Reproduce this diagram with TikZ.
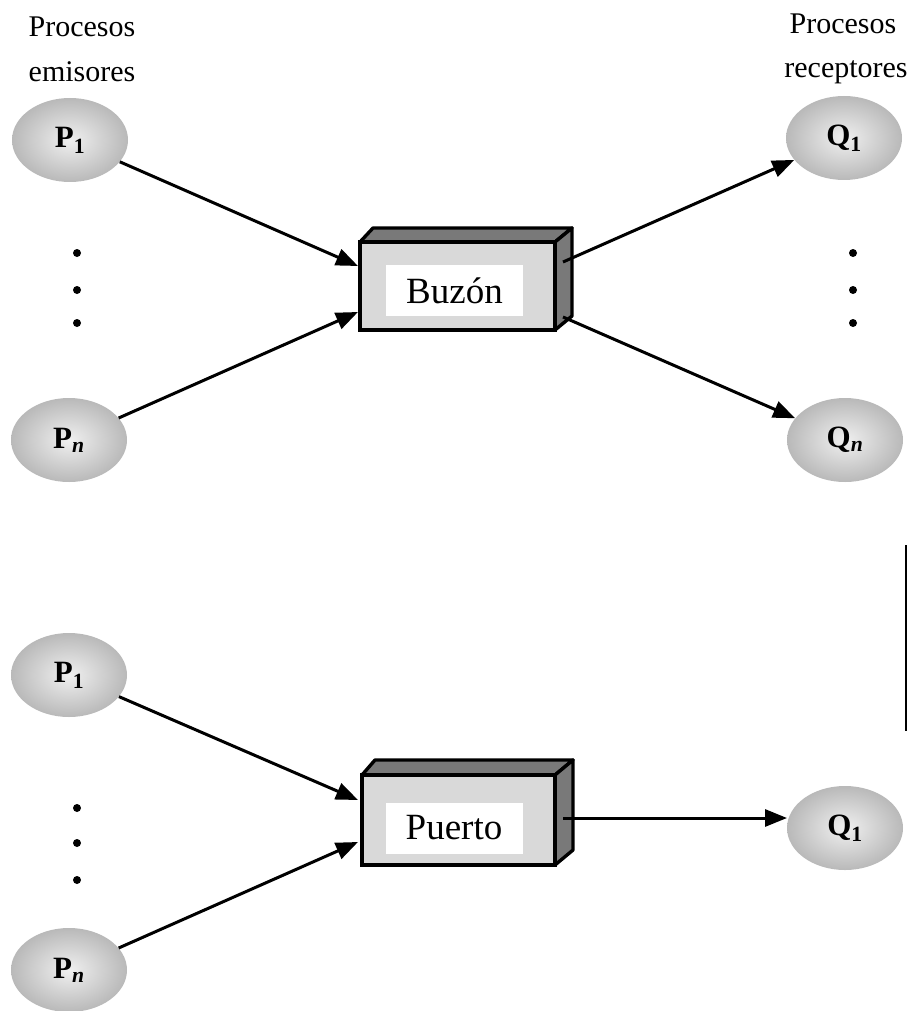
\documentclass[tikz,border=0pt]{standalone}
\usepackage{fontspec}
\setmainfont{Liberation Serif}
\usetikzlibrary{shapes.geometric,arrows.meta}
\begin{document}
\begin{tikzpicture}[x=1pt,y=-1pt,
  proc/.style={ellipse, minimum width=116pt, minimum height=84pt, inner sep=0pt,
    shading=radial, inner color=gray!12, outer color=gray!55},
  plbl/.style={font=\fontsize{31}{31}\selectfont\bfseries},
  front/.style={draw=black, line width=3.4pt, fill=gray!30, minimum width=195pt, minimum height=88pt, inner sep=0pt},
  face/.style={draw=black, line width=3.4pt, line join=round},
  lbl/.style={fill=white, inner sep=0pt, minimum width=137pt, minimum height=51pt, font=\fontsize{37}{37}\selectfont},
  conn/.style={line width=3pt, -{Triangle[length=22pt,width=17pt]}},
  dot/.style={circle, fill=black, inner sep=0pt, minimum size=8pt},
  head/.style={font=\fontsize{30}{30}\selectfont, inner sep=0pt}
]
\useasboundingbox (0,0) rectangle (908,1011);
\colorlet{sidegray}{gray!95!black}

% header texts
\node[head] (h1) at (82,27) {Procesos};
\node[head] (h2) at (82,72) {emisores};
\node[head] (h3) at (843,24) {Procesos};
\node[head] (h4) at (846,72) {receptores};

% ---------- top diagram ----------
\node[proc] (P1) at (70,140) {};
\node[plbl] (P1t) at (70,140) {P\textsubscript{1}};
\node[proc] (Pn) at (69,440) {};
\node[plbl] (Pnt) at (69,440) {P\textsubscript{\itshape n}};
\node[proc] (Q1) at (844,138) {};
\node[plbl] (Q1t) at (844,138) {Q\textsubscript{1}};
\node[proc] (Qn) at (845,440) {};
\node[plbl] (Qnt) at (845,440) {Q\textsubscript{\itshape n}};

\node[dot] (d1) at (77,253) {};
\node[dot] (d2) at (77,290) {};
\node[dot] (d3) at (77,323) {};
\node[dot] (d4) at (853,253) {};
\node[dot] (d5) at (853,290) {};
\node[dot] (d6) at (853,323) {};

% box 1
\draw[face, fill=sidegray] (360,242) -- (373,228) -- (572,228) -- (555,242) -- cycle;
\draw[face, fill=sidegray] (555,242) -- (572,228) -- (572,316) -- (555,330) -- cycle;
\node[front] (B) at (457.5,286) {};
\node[lbl] (BL) at (454.5,290.5) {Buzón};

\coordinate (Bi1) at (358,266);
\coordinate (Bi2) at (358,312);
\coordinate (Bo1) at (563,262);
\coordinate (Bo2) at (563,317);

\draw[conn] (P1) -- (Bi1);
\draw[conn] (Pn) -- (Bi2);
\draw[conn] (Bo1) -- (Q1);
\draw[conn] (Bo2) -- (Qn);

% vertical line
\coordinate (v1) at (906,545);
\coordinate (v2) at (906,731);
\draw[line width=2.2pt] (v1) -- (v2);

% ---------- bottom diagram ----------
\node[proc] (P1b) at (69,675) {};
\node[plbl] (P1bt) at (69,675) {P\textsubscript{1}};
\node[proc] (Pnb) at (69,970) {};
\node[plbl] (Pnbt) at (69,970) {P\textsubscript{\itshape n}};
\node[proc] (Q1b) at (845,828) {};
\node[plbl] (Q1bt) at (845,828) {Q\textsubscript{1}};

\node[dot] (d7) at (77,808) {};
\node[dot] (d8) at (77,843) {};
\node[dot] (d9) at (77,880) {};

% box 2
\draw[face, fill=sidegray] (362,775) -- (375,760) -- (573,760) -- (555,775) -- cycle;
\draw[face, fill=sidegray] (555,775) -- (573,760) -- (573,850) -- (555,865) -- cycle;
\node[front, minimum width=193pt, minimum height=90pt] (PB) at (458.5,820) {};
\node[lbl] (PL) at (454,828) {Puerto};

\coordinate (Pi1) at (358,800);
\coordinate (Pi2) at (358,842);
\coordinate (Po1) at (563,818);
\coordinate (Qin) at (787,818);

\draw[conn] (P1b) -- (Pi1);
\draw[conn] (Pnb) -- (Pi2);
\draw[conn] (Po1) -- (Qin);
\end{tikzpicture}
\end{document}
